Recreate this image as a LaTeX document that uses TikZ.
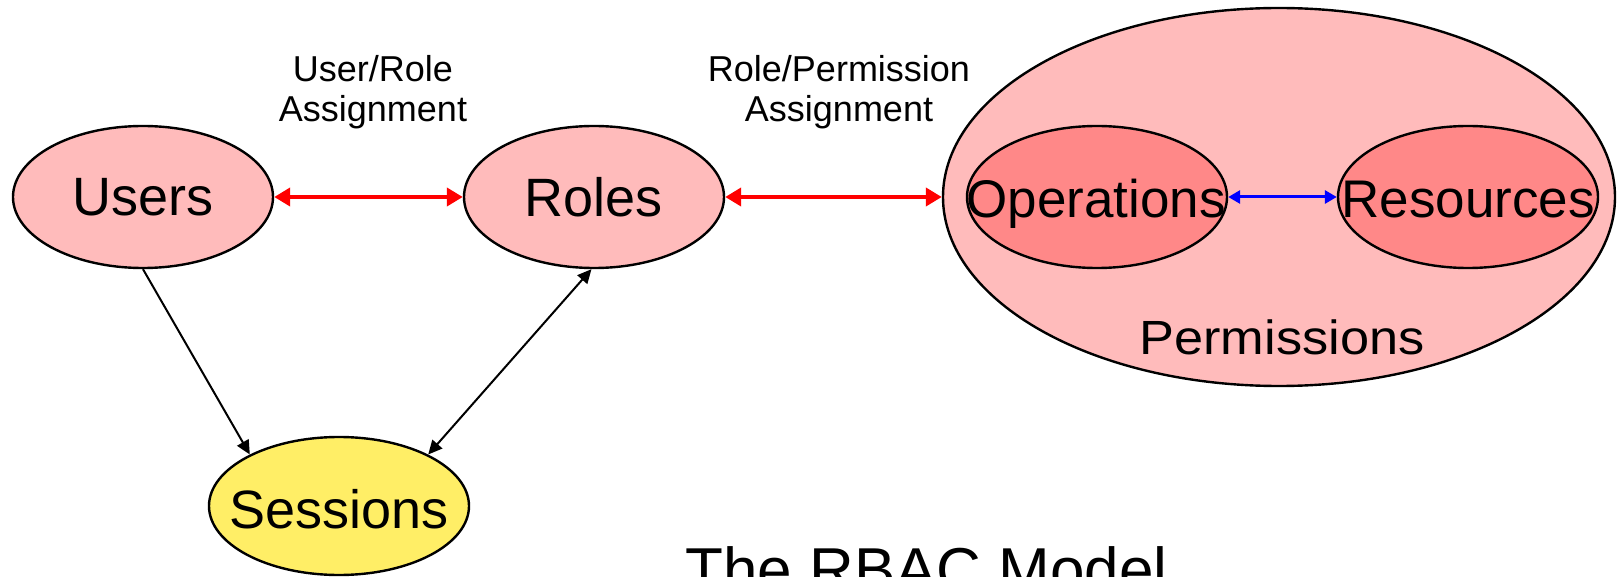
\documentclass[tikz,border=0pt]{standalone}
\usepackage{fontspec}
\setmainfont{Liberation Sans}
\usetikzlibrary{shapes.geometric,arrows.meta}
\definecolor{setpink}{HTML}{FFBBBB}
\definecolor{permred}{HTML}{FF8888}
\definecolor{sessyellow}{HTML}{FFEE66}
\tikzset{
  setbox/.style={ellipse,draw=black,line width=1.2pt,inner sep=0pt,font=\fontsize{27}{30}\selectfont},
  bigtext/.style={inner sep=0pt,font=\fontsize{26.5}{30}\selectfont},
  assigntext/.style={inner sep=0pt,align=center,font=\fontsize{18}{20}\selectfont},
  redlink/.style={draw=red,line width=2.2pt,{Triangle[length=8pt,width=9pt]}-{Triangle[length=8pt,width=9pt]}},
  bluelink/.style={draw=blue,line width=1.5pt,{Triangle[length=6pt,width=6.5pt]}-{Triangle[length=6pt,width=6.5pt]}},
  blacklink/.style={draw=black,line width=1pt,-{Triangle[length=7pt,width=6.5pt]}}
}

\begin{document}
\begin{tikzpicture}[x=0.5pt,y=-0.5pt]
  \useasboundingbox (0,0) rectangle (1618,577);
  \clip (0,0) rectangle (1618,577);

  \node[setbox,fill=setpink,minimum width=130pt,minimum height=71pt] (users) at (143,197) {Users};
  \node[setbox,fill=setpink,minimum width=130pt,minimum height=71pt] (roles) at (594,197) {Roles};
  \node[setbox,fill=sessyellow,minimum width=130pt,minimum height=69pt] (sessions) at (339,506) {};
  \node[inner sep=0pt,font=\fontsize{27}{30}\selectfont] (sesstext) at (339,509) {Sessions};

  \node[setbox,fill=setpink,minimum width=336pt,minimum height=189pt] (perms) at (1279,197) {};
  \node[setbox,fill=permred,minimum width=130pt,minimum height=71pt] (ops) at (1097,197) {};
  \node[setbox,fill=permred,minimum width=130pt,minimum height=71pt] (res) at (1468,197) {};
  \node[bigtext,anchor=base] (opstext) at (1096,218) {Operations};
  \node[bigtext,anchor=base] (restext) at (1468,218) {Resources};
  \node[inner sep=0pt,anchor=base,font=\fontsize{24}{26}\selectfont] (permtext) at (1282,355) {\scalebox{1.09}[1]{Permissions}};

  \node[assigntext] (uralabel) at (373,92) {User/Role\\Assignment};
  \node[assigntext] (rpalabel) at (839,92) {Role/Permission\\Assignment};

  \draw[redlink] (users) -- (roles);
  \draw[redlink] (roles) -- (perms);
  \draw[bluelink] (ops) -- (res);
  \draw[blacklink] (users.270) -- (sessions.150);
  \draw[blacklink,{Triangle[length=7pt,width=6.5pt]}-{Triangle[length=7pt,width=6.5pt]}] (roles.268) -- (sessions.30);

  \node[anchor=base west,inner sep=0pt,font=\fontsize{31}{34}\selectfont] (title) at (685,591) {The RBAC Model};
\end{tikzpicture}
\end{document}
